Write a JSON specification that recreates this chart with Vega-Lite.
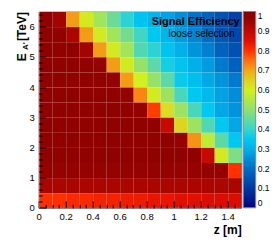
{
"$schema": "https://vega.github.io/schema/vega-lite/v6.json",
"autosize": {"type": "none"},
"padding": {"left": 38.7, "top": 11.5, "right": 36.8, "bottom": 34.2},
"width": 202.5,
"height": 196.3,
"config": {"font": "Liberation Sans", "view": {"stroke": "#888", "strokeWidth": 1}, "axis": {"grid": false}},
"data": {"values": [
{"z":0.05,"E":6.25,"eff":0.97},{"z":0.15,"E":6.25,"eff":0.94},{"z":0.25,"E":6.25,"eff":0.71},{"z":0.35,"E":6.25,"eff":0.61},{"z":0.45,"E":6.25,"eff":0.53},{"z":0.55,"E":6.25,"eff":0.46},{"z":0.65,"E":6.25,"eff":0.39},{"z":0.75,"E":6.25,"eff":0.34},{"z":0.85,"E":6.25,"eff":0.31},{"z":0.95,"E":6.25,"eff":0.28},{"z":1.05,"E":6.25,"eff":0.25},{"z":1.15,"E":6.25,"eff":0.21},{"z":1.25,"E":6.25,"eff":0.18},{"z":1.35,"E":6.25,"eff":0.15},{"z":1.45,"E":6.25,"eff":0.12},
{"z":0.05,"E":5.75,"eff":0.97},{"z":0.15,"E":5.75,"eff":0.97},{"z":0.25,"E":5.75,"eff":0.93},{"z":0.35,"E":5.75,"eff":0.71},{"z":0.45,"E":5.75,"eff":0.61},{"z":0.55,"E":5.75,"eff":0.53},{"z":0.65,"E":5.75,"eff":0.47},{"z":0.75,"E":5.75,"eff":0.41},{"z":0.85,"E":5.75,"eff":0.35},{"z":0.95,"E":5.75,"eff":0.31},{"z":1.05,"E":5.75,"eff":0.27},{"z":1.15,"E":5.75,"eff":0.24},{"z":1.25,"E":5.75,"eff":0.2},{"z":1.35,"E":5.75,"eff":0.16},{"z":1.45,"E":5.75,"eff":0.13},
{"z":0.05,"E":5.25,"eff":0.97},{"z":0.15,"E":5.25,"eff":0.97},{"z":0.25,"E":5.25,"eff":0.97},{"z":0.35,"E":5.25,"eff":0.94},{"z":0.45,"E":5.25,"eff":0.71},{"z":0.55,"E":5.25,"eff":0.61},{"z":0.65,"E":5.25,"eff":0.53},{"z":0.75,"E":5.25,"eff":0.43},{"z":0.85,"E":5.25,"eff":0.39},{"z":0.95,"E":5.25,"eff":0.34},{"z":1.05,"E":5.25,"eff":0.3},{"z":1.15,"E":5.25,"eff":0.26},{"z":1.25,"E":5.25,"eff":0.23},{"z":1.35,"E":5.25,"eff":0.18},{"z":1.45,"E":5.25,"eff":0.15},
{"z":0.05,"E":4.75,"eff":0.97},{"z":0.15,"E":4.75,"eff":0.97},{"z":0.25,"E":4.75,"eff":0.97},{"z":0.35,"E":4.75,"eff":0.97},{"z":0.45,"E":4.75,"eff":0.96},{"z":0.55,"E":4.75,"eff":0.71},{"z":0.65,"E":4.75,"eff":0.61},{"z":0.75,"E":4.75,"eff":0.51},{"z":0.85,"E":4.75,"eff":0.44},{"z":0.95,"E":4.75,"eff":0.37},{"z":1.05,"E":4.75,"eff":0.34},{"z":1.15,"E":4.75,"eff":0.3},{"z":1.25,"E":4.75,"eff":0.27},{"z":1.35,"E":4.75,"eff":0.22},{"z":1.45,"E":4.75,"eff":0.18},
{"z":0.05,"E":4.25,"eff":0.97},{"z":0.15,"E":4.25,"eff":0.97},{"z":0.25,"E":4.25,"eff":0.97},{"z":0.35,"E":4.25,"eff":0.97},{"z":0.45,"E":4.25,"eff":0.97},{"z":0.55,"E":4.25,"eff":0.96},{"z":0.65,"E":4.25,"eff":0.71},{"z":0.75,"E":4.25,"eff":0.6},{"z":0.85,"E":4.25,"eff":0.51},{"z":0.95,"E":4.25,"eff":0.44},{"z":1.05,"E":4.25,"eff":0.36},{"z":1.15,"E":4.25,"eff":0.33},{"z":1.25,"E":4.25,"eff":0.29},{"z":1.35,"E":4.25,"eff":0.26},{"z":1.45,"E":4.25,"eff":0.22},
{"z":0.05,"E":3.75,"eff":0.97},{"z":0.15,"E":3.75,"eff":0.97},{"z":0.25,"E":3.75,"eff":0.97},{"z":0.35,"E":3.75,"eff":0.97},{"z":0.45,"E":3.75,"eff":0.97},{"z":0.55,"E":3.75,"eff":0.97},{"z":0.65,"E":3.75,"eff":0.96},{"z":0.75,"E":3.75,"eff":0.73},{"z":0.85,"E":3.75,"eff":0.61},{"z":0.95,"E":3.75,"eff":0.52},{"z":1.05,"E":3.75,"eff":0.42},{"z":1.15,"E":3.75,"eff":0.35},{"z":1.25,"E":3.75,"eff":0.32},{"z":1.35,"E":3.75,"eff":0.28},{"z":1.45,"E":3.75,"eff":0.25},
{"z":0.05,"E":3.25,"eff":0.97},{"z":0.15,"E":3.25,"eff":0.97},{"z":0.25,"E":3.25,"eff":0.97},{"z":0.35,"E":3.25,"eff":0.97},{"z":0.45,"E":3.25,"eff":0.97},{"z":0.55,"E":3.25,"eff":0.97},{"z":0.65,"E":3.25,"eff":0.97},{"z":0.75,"E":3.25,"eff":0.96},{"z":0.85,"E":3.25,"eff":0.79},{"z":0.95,"E":3.25,"eff":0.63},{"z":1.05,"E":3.25,"eff":0.52},{"z":1.15,"E":3.25,"eff":0.42},{"z":1.25,"E":3.25,"eff":0.35},{"z":1.35,"E":3.25,"eff":0.29},{"z":1.45,"E":3.25,"eff":0.26},
{"z":0.05,"E":2.75,"eff":0.97},{"z":0.15,"E":2.75,"eff":0.97},{"z":0.25,"E":2.75,"eff":0.97},{"z":0.35,"E":2.75,"eff":0.97},{"z":0.45,"E":2.75,"eff":0.97},{"z":0.55,"E":2.75,"eff":0.97},{"z":0.65,"E":2.75,"eff":0.97},{"z":0.75,"E":2.75,"eff":0.97},{"z":0.85,"E":2.75,"eff":0.97},{"z":0.95,"E":2.75,"eff":0.89},{"z":1.05,"E":2.75,"eff":0.64},{"z":1.15,"E":2.75,"eff":0.52},{"z":1.25,"E":2.75,"eff":0.43},{"z":1.35,"E":2.75,"eff":0.35},{"z":1.45,"E":2.75,"eff":0.29},
{"z":0.05,"E":2.25,"eff":0.97},{"z":0.15,"E":2.25,"eff":0.97},{"z":0.25,"E":2.25,"eff":0.97},{"z":0.35,"E":2.25,"eff":0.97},{"z":0.45,"E":2.25,"eff":0.97},{"z":0.55,"E":2.25,"eff":0.97},{"z":0.65,"E":2.25,"eff":0.97},{"z":0.75,"E":2.25,"eff":0.97},{"z":0.85,"E":2.25,"eff":0.97},{"z":0.95,"E":2.25,"eff":0.97},{"z":1.05,"E":2.25,"eff":0.96},{"z":1.15,"E":2.25,"eff":0.72},{"z":1.25,"E":2.25,"eff":0.57},{"z":1.35,"E":2.25,"eff":0.44},{"z":1.45,"E":2.25,"eff":0.35},
{"z":0.05,"E":1.75,"eff":0.97},{"z":0.15,"E":1.75,"eff":0.97},{"z":0.25,"E":1.75,"eff":0.97},{"z":0.35,"E":1.75,"eff":0.97},{"z":0.45,"E":1.75,"eff":0.97},{"z":0.55,"E":1.75,"eff":0.97},{"z":0.65,"E":1.75,"eff":0.97},{"z":0.75,"E":1.75,"eff":0.97},{"z":0.85,"E":1.75,"eff":0.97},{"z":0.95,"E":1.75,"eff":0.97},{"z":1.05,"E":1.75,"eff":0.97},{"z":1.15,"E":1.75,"eff":0.97},{"z":1.25,"E":1.75,"eff":0.89},{"z":1.35,"E":1.75,"eff":0.61},{"z":1.45,"E":1.75,"eff":0.48},
{"z":0.05,"E":1.25,"eff":0.96},{"z":0.15,"E":1.25,"eff":0.96},{"z":0.25,"E":1.25,"eff":0.96},{"z":0.35,"E":1.25,"eff":0.96},{"z":0.45,"E":1.25,"eff":0.96},{"z":0.55,"E":1.25,"eff":0.96},{"z":0.65,"E":1.25,"eff":0.96},{"z":0.75,"E":1.25,"eff":0.96},{"z":0.85,"E":1.25,"eff":0.96},{"z":0.95,"E":1.25,"eff":0.96},{"z":1.05,"E":1.25,"eff":0.96},{"z":1.15,"E":1.25,"eff":0.96},{"z":1.25,"E":1.25,"eff":0.96},{"z":1.35,"E":1.25,"eff":0.96},{"z":1.45,"E":1.25,"eff":0.8},
{"z":0.05,"E":0.75,"eff":0.93},{"z":0.15,"E":0.75,"eff":0.93},{"z":0.25,"E":0.75,"eff":0.93},{"z":0.35,"E":0.75,"eff":0.93},{"z":0.45,"E":0.75,"eff":0.93},{"z":0.55,"E":0.75,"eff":0.93},{"z":0.65,"E":0.75,"eff":0.93},{"z":0.75,"E":0.75,"eff":0.93},{"z":0.85,"E":0.75,"eff":0.93},{"z":0.95,"E":0.75,"eff":0.93},{"z":1.05,"E":0.75,"eff":0.93},{"z":1.15,"E":0.75,"eff":0.93},{"z":1.25,"E":0.75,"eff":0.93},{"z":1.35,"E":0.75,"eff":0.93},{"z":1.45,"E":0.75,"eff":0.93},
{"z":0.05,"E":0.25,"eff":0.8},{"z":0.15,"E":0.25,"eff":0.8},{"z":0.25,"E":0.25,"eff":0.81},{"z":0.35,"E":0.25,"eff":0.81},{"z":0.45,"E":0.25,"eff":0.82},{"z":0.55,"E":0.25,"eff":0.82},{"z":0.65,"E":0.25,"eff":0.83},{"z":0.75,"E":0.25,"eff":0.83},{"z":0.85,"E":0.25,"eff":0.84},{"z":0.95,"E":0.25,"eff":0.84},{"z":1.05,"E":0.25,"eff":0.85},{"z":1.15,"E":0.25,"eff":0.85},{"z":1.25,"E":0.25,"eff":0.86},{"z":1.35,"E":0.25,"eff":0.86},{"z":1.45,"E":0.25,"eff":0.86}
]},
"resolve": {"axis": {"x": "independent", "y": "independent"}},
"layer": [
{
 "mark": {"type": "rect"},
 "encoding": {
  "x": {"field": "z", "type": "quantitative", "bin": {"extent": [0, 1.5], "step": 0.1, "nice": false},
        "scale": {"domain": [0, 1.5], "nice": false, "zero": false},
        "axis": {"orient": "bottom", "values": [0, 0.2, 0.4, 0.6, 0.8, 1, 1.2, 1.4], "format": "~g", "tickSize": -7, "tickColor": "#000", "tickWidth": 1,
                 "labelPadding": 11, "labelFlush": false, "labelFontSize": 9.5, "labelColor": "#000", "domainColor": "#888",
                 "title": "z [m]", "titleFontSize": 12, "titleFontWeight": "bold", "titleColor": "#000", "titleAlign": "right", "titleBaseline": "alphabetic", "titleAnchor": "end", "titleX": 202.5, "titleY": 26}},
  "y": {"field": "E", "type": "quantitative", "bin": {"extent": [0, 6.5], "step": 0.5, "nice": false},
        "scale": {"domain": [0, 6.5], "nice": false, "zero": false},
        "axis": {"orient": "left", "values": [0, 1, 2, 3, 4, 5, 6], "format": "~g", "tickSize": -7, "tickColor": "#000", "tickWidth": 1,
                 "labelPadding": 11.5, "labelFlush": false, "labelFontSize": 9.5, "labelColor": "#000", "domainColor": "#888",
                 "title": "E\u2002\u2002[TeV]", "titleFontSize": 12, "titleFontWeight": "bold", "titleColor": "#000", "titleAngle": 270, "titleAlign": "right", "titleBaseline": "alphabetic", "titleAnchor": "end", "titleX": -13.7, "titleY": 0}},
  "color": {"field": "eff", "type": "quantitative",
        "scale": {"type": "linear", "domain": [0, 0.1, 0.2, 0.3, 0.35, 0.4, 0.5, 0.6, 0.65, 0.7, 0.75, 0.8, 0.85, 0.9, 0.95, 1],
                  "range": ["#000080", "#0038a0", "#006cc4", "#00b0ea", "#00c8f0", "#38d4cc", "#90e070", "#d0f020", "#e0d020", "#f0a818", "#ff7010", "#ff3000", "#e01000", "#c00800", "#9a0400", "#800000"], "interpolate": "rgb"},
        "legend": {"orient": "none", "legendX": 204.5, "legendY": 0, "direction": "vertical", "title": null, "padding": 0,
                   "gradientLength": 196.3, "gradientThickness": 12.5, "gradientStrokeColor": "#888", "gradientStrokeWidth": 1,
                   "values": [0, 0.1, 0.2, 0.3, 0.4, 0.5, 0.6, 0.7, 0.8, 0.9, 1], "format": "~g", "labelFontSize": 8.5, "labelColor": "#000", "labelOffset": 2, "labelOverlap": false, "labelBaseline": "middle"}}
 }
},
{
 "mark": {"type": "rect", "opacity": 0},
 "encoding": {
  "x": {"field": "z", "type": "quantitative", "bin": {"extent": [0, 1.5], "step": 0.1, "nice": false},
        "scale": {"domain": [0, 1.5], "nice": false, "zero": false},
        "axis": {"orient": "bottom", "values": [0.05, 0.1, 0.15, 0.25, 0.3, 0.35, 0.45, 0.5, 0.55, 0.65, 0.7, 0.75, 0.85, 0.9, 0.95, 1.05, 1.1, 1.15, 1.25, 1.3, 1.35, 1.45],
                 "labels": false, "domain": false, "tickSize": -3.5, "tickColor": "#000", "tickWidth": 1, "title": null}},
  "y": {"field": "E", "type": "quantitative", "bin": {"extent": [0, 6.5], "step": 0.5, "nice": false},
        "scale": {"domain": [0, 6.5], "nice": false, "zero": false},
        "axis": {"orient": "left", "values": [0.2, 0.4, 0.6, 0.8, 1.2, 1.4, 1.6, 1.8, 2.2, 2.4, 2.6, 2.8, 3.2, 3.4, 3.6, 3.8, 4.2, 4.4, 4.6, 4.8, 5.2, 5.4, 5.6, 5.8, 6.2, 6.4],
                 "labels": false, "domain": false, "tickSize": -3.5, "tickColor": "#000", "tickWidth": 1, "title": null}}
 }
},
{
 "data": {"values": [{"label": "Signal Efficiency"}]},
 "mark": {"type": "text", "align": "right", "baseline": "alphabetic", "fontSize": 11, "fontWeight": "bold", "color": "#000"},
 "encoding": {
  "x": {"datum": 1.489, "type": "quantitative", "scale": {"domain": [0, 1.5], "nice": false, "zero": false}, "axis": null},
  "y": {"datum": 6.053, "type": "quantitative", "scale": {"domain": [0, 6.5], "nice": false, "zero": false}, "axis": null},
  "text": {"field": "label"}
 }
},
{
 "data": {"values": [{"label": "loose selection"}]},
 "mark": {"type": "text", "align": "right", "baseline": "alphabetic", "fontSize": 10, "color": "#000"},
 "encoding": {
  "x": {"datum": 1.452, "type": "quantitative", "scale": {"domain": [0, 1.5], "nice": false, "zero": false}, "axis": null},
  "y": {"datum": 5.666, "type": "quantitative", "scale": {"domain": [0, 6.5], "nice": false, "zero": false}, "axis": null},
  "text": {"field": "label"}
 }
},
{
 "data": {"values": [{"label": "A'"}]},
 "mark": {"type": "text", "align": "left", "baseline": "alphabetic", "angle": 270, "fontSize": 8, "fontWeight": "bold", "color": "#000"},
 "encoding": {
  "x": {"datum": -0.079, "type": "quantitative", "scale": {"domain": [0, 1.5], "nice": false, "zero": false}, "axis": null},
  "y": {"datum": 5.225, "type": "quantitative", "scale": {"domain": [0, 6.5], "nice": false, "zero": false}, "axis": null},
  "text": {"field": "label"}
 }
}
]
}
